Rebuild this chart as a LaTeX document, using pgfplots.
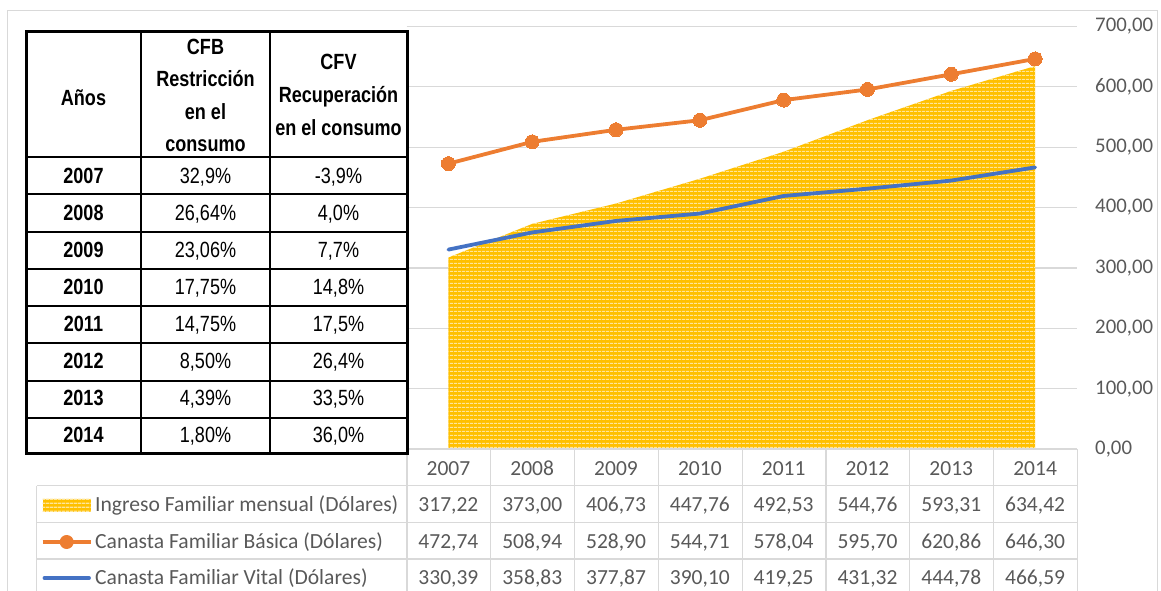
\documentclass[border=0pt]{standalone}
\usepackage{pgfplots}
\pgfplotsset{compat=1.18}
\usepackage{pgfplotstable}
\usepackage{fontspec}
\setmainfont{Carlito}
\newfontfamily\narrow[FakeStretch=0.82]{Liberation Sans}
\usetikzlibrary{patterns.meta}
\definecolor{cfbcol}{HTML}{ED7D31}
\definecolor{cfvcol}{HTML}{4472C4}
\definecolor{ingcol}{HTML}{FFC000}
\definecolor{inglight}{HTML}{FFE69A}
\definecolor{gridcol}{HTML}{D9D9D9}
\definecolor{txt}{HTML}{595959}

\pgfplotstableread{
i year ing cfb cfv
0 2007 317.22 472.74 330.39
1 2008 373.00 508.94 358.83
2 2009 406.73 528.90 377.87
3 2010 447.76 544.71 390.10
4 2011 492.53 578.04 419.25
5 2012 544.76 595.70 431.32
6 2013 593.31 620.86 444.78
7 2014 634.42 646.30 466.59
}\data

\pgfplotsset{
  rowval/.style={draw=none, mark=none, forget plot,
    point meta=explicit,
    nodes near coords={\pgfmathprintnumber[fixed, fixed zerofill, precision=2, use comma, assume math mode=true]{\pgfplotspointmeta}},
    every node near coord/.append style={anchor=base, inner sep=0pt, yshift=#1, font=\fontsize{21.5}{25}\selectfont, text=txt}},
}

\begin{document}
\begin{tikzpicture}[x=1pt,y=1pt]
\useasboundingbox (0,0) rectangle (1161,590);
% chart area border
\draw[gridcol, line width=1pt] (7.5,-5) -- (7.5,579.5) -- (1157.5,579.5) -- (1157.5,-5);

\begin{axis}[
  at={(406.5pt,141pt)}, anchor=south west,
  scale only axis, width=670.5pt, height=422.5pt,
  xmin=-0.5, xmax=7.5, ymin=0, ymax=700,
  clip=false,
  axis line style={draw=none},
  tick style={draw=none},
  major tick length=0pt,
  xtick={0,...,7},
  xticklabels={2007,2008,2009,2010,2011,2012,2013,2014},
  xticklabel style={anchor=base, inner sep=0pt, yshift=-26.8pt, font=\fontsize{21.5}{25}\selectfont, text=txt},
  ytick={0,100,...,700},
  yticklabel pos=right,
  yticklabel style={anchor=west, inner sep=0pt, xshift=18pt, font=\fontsize{20.8}{25}\selectfont, text=txt,
    /pgf/number format/fixed, /pgf/number format/fixed zerofill,
    /pgf/number format/precision=2, /pgf/number format/use comma,
    /pgf/number format/assume math mode=true},
  ymajorgrids, grid style={gridcol, line width=1.2pt},
]
\addplot[draw=none, fill=ingcol,
  postaction={pattern={Lines[angle=0, distance=4pt, line width=1.5pt]}, pattern color=inglight}]
  table[x=i, y=ing]{\data} \closedcycle;
\addplot[cfvcol, line width=3.8pt, line cap=round, mark=none] table[x=i, y=cfv]{\data};
\addplot[cfbcol, line width=3.8pt, mark=*, mark size=7pt,
  mark options={solid, fill=cfbcol, draw=cfbcol, line width=0pt}] table[x=i, y=cfb]{\data};
% data table values
\addplot[rowval=-62.8pt] table[x=i, y expr=0, meta=ing]{\data};
\addplot[rowval=-99.8pt] table[x=i, y expr=0, meta=cfb]{\data};
\addplot[rowval=-135.8pt] table[x=i, y expr=0, meta=cfv]{\data};
\end{axis}

% data table grid
\draw[gridcol, line width=1.5pt] (406.5,141) -- (1077,141);
\foreach \yy in {104.3,67.7,31} \draw[gridcol, line width=1.2pt] (36.7,\yy) -- (1077,\yy);
\draw[gridcol, line width=1.2pt] (36.7,104.3) -- (36.7,-5);
\foreach \k in {0,...,8} \draw[gridcol, line width=1.2pt] ({407+83.8125*\k},141) -- ({407+83.8125*\k},-5);

% legend entries
\fill[ingcol] (42.7,78.5) rectangle (90.7,91.5);
\fill[pattern={Lines[angle=0, distance=4pt, line width=1.5pt]}, pattern color=inglight] (42.7,78.5) rectangle (90.7,91.5);
\draw[cfbcol, line width=3.8pt] (42.7,48) -- (90.7,48);
\fill[cfbcol] (66.7,48) circle (7);
\draw[cfvcol, line width=3.8pt, line cap=round] (44.5,12) -- (89,12);
\begin{scope}[every node/.style={anchor=base west, inner sep=0pt, font=\fontsize{21.6}{25}\selectfont, text=txt}]
\node at (95,78.5) {Ingreso Familiar mensual (Dólares)};
\node at (95,41.5) {Canasta Familiar Básica (Dólares)};
\node at (95,5.5) {Canasta Familiar Vital (Dólares)};
\end{scope}

% overlaid table
\fill[white] (26,137) rectangle (407,558);
\foreach \yy in {433,396,358,321,284,247,209,172} \draw[black, line width=2.6pt] (26,\yy) -- (407,\yy);
\draw[black, line width=2.6pt] (141,137) -- (141,558);
\draw[black, line width=2.6pt] (270,137) -- (270,558);
\draw[black, line width=3pt] (26,137) rectangle (407,558);
\node[font=\narrow\bfseries\fontsize{22}{26}\selectfont] at (83.5,492) {Años};
\node[align=center, inner sep=0pt, font=\narrow\bfseries\fontsize{22}{32.3}\selectfont] at (205.5,494.5) {CFB\\Restricción\\en el\\consumo};
\node[align=center, inner sep=0pt, font=\narrow\bfseries\fontsize{22}{33}\selectfont] at (338.5,495) {CFV\\Recuperación\\en el consumo};
\foreach \yr/\a/\b [count=\k from 0] in {2007/{32,9\%}/{-3,9\%},2008/{26,64\%}/{4,0\%},2009/{23,06\%}/{7,7\%},2010/{17,75\%}/{14,8\%},2011/{14,75\%}/{17,5\%},2012/{8,50\%}/{26,4\%},2013/{4,39\%}/{33,5\%},2014/{1,80\%}/{36,0\%}}{
  \pgfmathsetmacro{\by}{414.5-37*\k-7.9}
  \node[anchor=base, inner sep=0pt, font=\narrow\bfseries\fontsize{22}{26}\selectfont] at (83.5,\by) {\yr};
  \node[anchor=base, inner sep=0pt, font=\narrow\fontsize{22}{26}\selectfont] at (205.5,\by) {\a};
  \node[anchor=base, inner sep=0pt, font=\narrow\fontsize{22}{26}\selectfont] at (338.5,\by) {\b};
}
\end{tikzpicture}
\end{document}
